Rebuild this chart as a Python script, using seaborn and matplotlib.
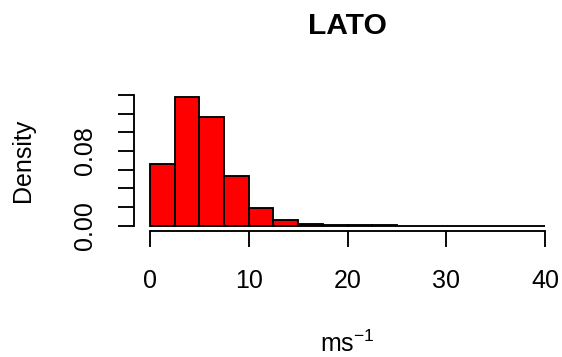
import matplotlib
matplotlib.use("Agg")
import matplotlib.pyplot as plt
import seaborn as sns
import numpy as np
import pandas as pd

# Data: histogram bins (width 2.5 ms^-1) and densities
bin_edges = [0, 2.5, 5, 7.5, 10, 12.5, 15, 17.5, 20, 22.5, 25, 27.5, 30, 32.5, 35, 37.5, 40]
densities = [0.0664, 0.1382, 0.1161, 0.0532, 0.0193, 0.0058, 0.0018, 0.0008,
             0.0004, 0.0003, 0.0, 0.0, 0.0, 0.0, 0.0, 0.0]
x_ticks = [0, 10, 20, 30, 40]
y_ticks = [0.00, 0.02, 0.04, 0.06, 0.08, 0.10, 0.12, 0.14]
y_ticklabels = ["0.00", "", "", "", "0.08", "", "", ""]
title = "LATO"

sns.set_style("white")
plt.rcParams['font.family'] = ['Liberation Sans', 'DejaVu Sans']
plt.rcParams['mathtext.fontset'] = 'custom'
plt.rcParams['mathtext.rm'] = 'Liberation Sans'
plt.rcParams['mathtext.it'] = 'Liberation Sans'
plt.rcParams['text.color'] = 'black'
plt.rcParams['axes.labelcolor'] = 'black'
plt.rcParams['xtick.color'] = 'black'
plt.rcParams['ytick.color'] = 'black'

df = pd.DataFrame({"left": bin_edges[:-1], "density": densities})
df["mid"] = df["left"] + 1.25

fig = plt.figure(figsize=(562 / 150, 357 / 150), dpi=150)
ax = fig.add_axes([134.2 / 562, 1 - 230.9 / 357, (560.8 - 134.2) / 562, (230.9 - 89.8) / 357])

sns.histplot(data=df, x="mid", weights="density", bins=bin_edges, stat="count",
             color="#FF0000", alpha=1, edgecolor="black", linewidth=0.9, ax=ax)

ax.set_xlim(-1.6, 41.6)
ax.set_ylim(-0.0056, 0.1456)
for s in ["top", "right"]:
    ax.spines[s].set_visible(False)
for s in ["left", "bottom"]:
    ax.spines[s].set_visible(True)
    ax.spines[s].set_color("black")
    ax.spines[s].set_linewidth(0.9)
ax.spines["bottom"].set_bounds(0, 40)
ax.spines["left"].set_bounds(0, 0.14)

ax.set_xticks(x_ticks)
ax.set_xticklabels([str(t) for t in x_ticks])
ax.set_yticks(y_ticks)
ax.set_yticklabels(y_ticklabels, rotation=90, va="center")
ax.tick_params(axis="both", direction="out", length=7.5, width=0.9, color="black",
               labelsize=12, labelcolor="black")
ax.tick_params(axis="x", pad=11.0, bottom=True)
ax.tick_params(axis="y", pad=10.5, left=True)

ax.set_xlabel(r"ms$^{-1}$", fontsize=12, color="black")
ax.xaxis.set_label_coords(0.5, -(344 - 230.9) / (230.9 - 89.8))
ax.xaxis.label.set_va("center")
ax.set_ylabel("Density", fontsize=12, color="black")
ax.yaxis.set_label_coords((23 - 134.2) / (560.8 - 134.2), 0.5)
ax.yaxis.label.set_va("center")

fig.text(347.5 / 562, 1 - 26 / 357, title, ha="center", va="center",
         fontsize=14.4, fontweight="bold", color="black")

fig.savefig("out.png", dpi=150)
